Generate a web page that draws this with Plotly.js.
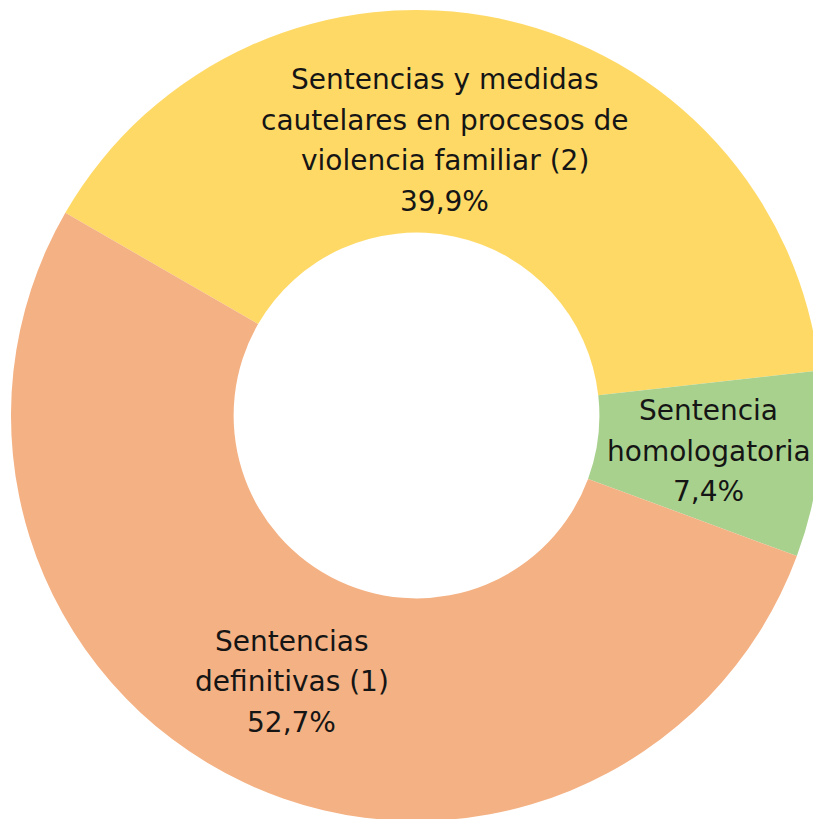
<!DOCTYPE html>
<html>
<head>
<meta charset="utf-8">
<script src="https://cdn.plot.ly/plotly-3.0.1.min.js"></script>
<style>
  html, body { margin: 0; padding: 0; overflow: hidden; width: 813px; height: 819px; background: #fff; }
  #donut { position: absolute; left: 11px; top: 9.5px; width: 811px; height: 811px; }
</style>
</head>
<body>
<div id="donut"></div>
<script>
// data, in the order the slices go round (clockwise)
var labelLines = [
    ["Sentencias y medidas", "cautelares en procesos de", "violencia familiar (2)"],
    ["Sentencia", "homologatoria"],
    ["Sentencias", "definitivas (1)"]
]
var shares = [39.9, 7.4, 52.7]
var sliceColors = ['#FFD966', '#A9D18E', '#F4B183']

var startAngle = -60      // first slice starts here, degrees clockwise from 12 o'clock
var holeFrac = 0.451
// the top label sits a bit left of and inside the slice middle
var labelNudgeAngle = [-6, 0, 0]
var labelNudgeRadius = [0.94, 1, 1]

function pct(v) {
    return v.toFixed(1).replace('.', ',') + '%'
}

function drawPlot() {
    var trace = {
        type: 'pie',
        values: shares,
        labels: labelLines.map(l => l.join(' ')),
        sort: false,
        direction: 'clockwise',
        rotation: startAngle,
        hole: holeFrac,
        marker: { colors: sliceColors, line: { width: 0 } },
        textinfo: 'none',
        hoverinfo: 'skip',
        showlegend: false
    }

    // labels: one annotation per line, placed at the middle of each ring slice
    var total = shares.reduce((a, b) => a + b, 0)
    var annotations = []
    var acc = 0
    var rMid = (1 + holeFrac) / 2 * 0.5   // in paper units (radius = 0.5)
    var lineGap = 40.5
    for (let i = 0; i < shares.length; i++) {
        var mid = startAngle + (acc + shares[i] / 2) / total * 360 + labelNudgeAngle[i]
        acc += shares[i]
        var a = mid * Math.PI / 180
        var r = rMid * labelNudgeRadius[i]
        var px = 0.5 + r * Math.sin(a)
        var py = 0.5 + r * Math.cos(a)
        var lines = labelLines[i].concat([pct(shares[i])])
        for (let j = 0; j < lines.length; j++) {
            annotations.push({
                xref: 'paper', yref: 'paper',
                x: px, y: py,
                xanchor: 'center', yanchor: 'middle',
                yshift: -(j - (lines.length - 1) / 2) * lineGap,
                text: lines[j],
                showarrow: false,
                font: { family: 'DejaVu Sans', size: 28, color: '#151515' }
            })
        }
    }

    var layout = {
        width: 811,
        height: 811,
        margin: { l: 0, r: 0, t: 0, b: 0 },
        paper_bgcolor: 'rgba(0,0,0,0)',
        plot_bgcolor: 'rgba(0,0,0,0)',
        annotations: annotations
    }

    Plotly.newPlot('donut', [trace], layout, { displayModeBar: false, staticPlot: true })
}

drawPlot()
</script>
</body>
</html>
